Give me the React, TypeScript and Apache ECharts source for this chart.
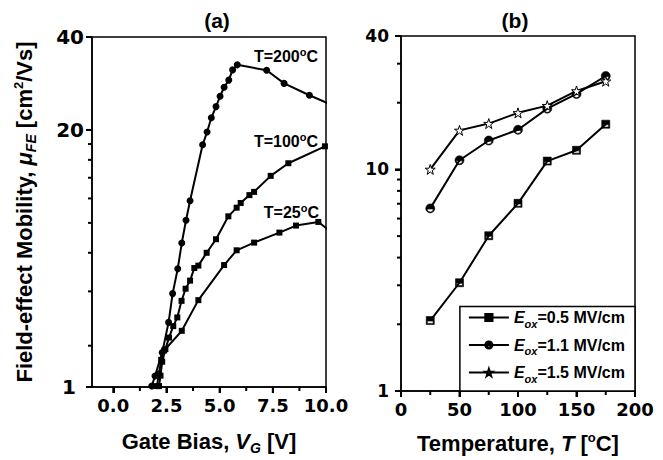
import React, { useEffect, useRef } from 'react';
import * as echarts from 'echarts';

// ---------- Panel (a): mobility vs gate bias ----------
const vgT200 = [1.81, 1.96, 2.3, 2.6, 2.79, 3.03, 3.22, 3.42, 3.61, 4.2, 4.41, 4.61, 4.83, 5.02, 5.21, 5.43, 5.61, 5.83, 7.21, 8.03, 9.22, 10.4];
const muT200 = [2.96, 3.19, 3.8, 4.76, 5.9, 7.1, 8.6, 10.2, 11.8, 17.9, 19.7, 21.9, 23.8, 25.7, 27.5, 29.0, 31.3, 32.5, 31.2, 28.3, 25.9, 23.9];

const vgT100 = [2.15, 2.22, 2.3, 2.45, 2.62, 2.82, 3.01, 3.21, 3.4, 3.61, 3.81, 4.0, 4.39, 4.83, 5.41, 5.8, 5.99, 6.4, 6.62, 7.4, 8.23, 9.95];
const muT100 = [2.96, 3.2, 3.55, 3.9, 4.25, 4.63, 4.94, 5.59, 6.12, 6.5, 7.14, 7.27, 8.0, 8.85, 10.5, 11.2, 11.6, 12.3, 12.6, 14.2, 15.6, 17.7];

const vgT25 = [2.05, 2.15, 2.25, 2.39, 3.22, 4.0, 5.21, 5.8, 6.62, 7.81, 8.59, 9.64, 10.3];
const muT25 = [2.96, 3.25, 3.6, 3.86, 4.47, 5.62, 7.3, 8.15, 8.63, 9.3, 9.8, 10.07, 9.28];

const seriesLabelsA = ['T=200', 'T=100', 'T=25'];

const aXMin = -1;
const aXMax = 10;
const aXMajor = [0, 2.5, 5, 7.5, 10];
const aXMinor = [1.25, 3.75, 6.25, 8.75];
const aYMin = 2.94;
const aYMax = 40;
const aYTickValues = [2.94, 20, 40];
const aYTickLabels = ['1', '20', '40'];
const aYMinor = [4, 6, 8, 10, 12, 14, 16, 18];

// ---------- Panel (b): mobility vs temperature ----------
const tempB = [25, 50, 75, 100, 125, 150, 175];
const muE05 = [2.08, 3.08, 5.02, 7.03, 10.9, 12.2, 16.0];
const muE11 = [6.67, 11.0, 13.5, 15.1, 18.8, 21.9, 26.4];
const muE15 = [10.0, 15.0, 16.1, 18.0, 19.4, 22.6, 25.0];
const eoxValues = ['0.5', '1.1', '1.5'];

const bXMin = 0;
const bXMax = 200;
const bXMajor = [0, 50, 100, 150, 200];
const bXMinor = [25, 75, 125, 175];
const bYMin = 1;
const bYMax = 40;
const bYTickValues = [1, 10, 40];
const bYTickLabels = ['1', '10', '40'];
const bYMinor = [2, 3, 4, 5, 6, 7, 8, 9, 20, 30];

const TXT = '"Liberation Sans", Arial, sans-serif';
const TICK = '"DejaVu Sans", sans-serif';
const BLACK = '#000';
const MAJOR_LEN = 6;
const MINOR_LEN = 4;
const TICK_W = 2;

const zip = (xs: number[], ys: number[]) => xs.map((x, i) => [x, ys[i]]);
const clampTicks = (vals: number[], lo: number, hi: number) =>
  vals.map((v) => Math.min(Math.max(v, lo * 1.0001), hi * 0.9999));
const nearestIndex = (v: number, vals: number[]) => {
  let best = 0;
  let d = Infinity;
  vals.forEach((t, i) => {
    const dd = Math.abs(Math.log(v) - Math.log(t));
    if (dd < d) {
      d = dd;
      best = i;
    }
  });
  return best;
};

const titleRich = () => ({
  n: { fontFamily: TXT, fontWeight: 'bold', fontSize: 22, color: BLACK },
  i: { fontFamily: TXT, fontWeight: 'bold', fontStyle: 'italic', fontSize: 22, color: BLACK },
  sub: { fontFamily: TXT, fontWeight: 'bold', fontStyle: 'italic', fontSize: 14, color: BLACK, padding: [14, 0, 0, 0] },
  sup: { fontFamily: TXT, fontWeight: 'bold', fontSize: 13, color: BLACK, padding: [0, 0, 12, 0] },
});

function mainX(gridIndex: number, min: number, max: number, major: number[], fmt: (v: number) => string, name: string) {
  return {
    type: 'value',
    gridIndex,
    min,
    max,
    position: 'bottom',
    axisLine: { show: true, onZero: false, lineStyle: { color: BLACK, width: 1.5 } },
    axisTick: { show: true, customValues: major, length: MAJOR_LEN, lineStyle: { color: BLACK, width: TICK_W } },
    axisLabel: {
      customValues: major,
      formatter: fmt,
      fontFamily: TICK,
      fontWeight: 'bold',
      fontSize: 18,
      color: BLACK,
      margin: 9,
    },
    splitLine: { show: false },
    name,
    nameLocation: 'middle',
    nameGap: 40,
    nameTextStyle: { rich: titleRich() },
  };
}

function mainY(gridIndex: number, min: number, max: number, vals: number[], labels: string[], fontSize: number, margin: number, padLast: number, name?: string) {
  const ticks = clampTicks(vals, min, max);
  return {
    type: 'log',
    logBase: 10,
    gridIndex,
    min,
    max,
    position: 'left',
    axisLine: { show: true, onZero: false, lineStyle: { color: BLACK, width: 1.5 } },
    axisTick: { show: true, customValues: ticks, length: MAJOR_LEN, lineStyle: { color: BLACK, width: TICK_W } },
    axisLabel: {
      customValues: ticks,
      formatter: (v: number) => {
        const i = nearestIndex(v, vals);
        return i === 0 ? `{lo|${labels[i]}}` : labels[i];
      },
      fontFamily: TICK,
      fontWeight: 'bold',
      fontSize,
      color: BLACK,
      margin,
      rich: {
        lo: { fontFamily: TICK, fontWeight: 'bold', fontSize, color: BLACK, padding: [0, padLast, 0, 0] },
      },
    },
    splitLine: { show: false },
    name: name || '',
    nameLocation: 'middle',
    nameGap: 54,
    nameRotate: 90,
    nameTextStyle: { rich: titleRich() },
  };
}

// tick marks drawn through the axes' own scales (api.coord); named so a legend never filters them
function tickSeries(id: string, axisIndex: number, values: number[], dir: 'x' | 'y', fixed: number, len: number) {
  return {
    type: 'custom',
    name: id,
    id,
    xAxisIndex: axisIndex,
    yAxisIndex: axisIndex,
    clip: false,
    z: 10,
    data: values.map((v) => (dir === 'x' ? [v, fixed] : [fixed, v])),
    renderItem: (params: any, api: any) => {
      const p = api.coord([api.value(0), api.value(1)]);
      const shape =
        dir === 'x'
          ? { x1: p[0], y1: p[1], x2: p[0], y2: p[1] + len }
          : { x1: p[0] - len, y1: p[1], x2: p[0], y2: p[1] };
      return { type: 'line', shape, style: { stroke: '#000', lineWidth: TICK_W } };
    },
  };
}

// half-filled symbols (top half black, bottom half open)
const HALF_RECT = 'path://M0,0 H10 V10 H0 Z M1.4,5.7 V8.6 H8.6 V5.7 Z';
const HALF_CIRCLE = 'path://M0,5 A5,5 0 1,1 10,5 A5,5 0 1,1 0,5 Z M8.4,5.7 H1.6 A3.4,3.4 0 0,0 8.4,5.7 Z';
const STAR =
  'path://M5,0 L6.18,3.55 L9.9,3.55 L6.9,5.75 L8.05,9.3 L5,7.1 L1.95,9.3 L3.1,5.75 L0.1,3.55 L3.82,3.55 Z';

const eoxName = (v: string) => `Eox=${v} MV/cm`;

export default function App() {
  const ref = useRef<HTMLDivElement>(null);

  useEffect(() => {
    if (!ref.current) return;
    const chart = echarts.init(ref.current, undefined, { renderer: 'svg' });

    const aSeries = [
      { data: zip(vgT200, muT200), symbol: 'circle', symbolSize: 7 },
      { data: zip(vgT100, muT100), symbol: 'rect', symbolSize: 6 },
      { data: zip(vgT25, muT25), symbol: 'rect', symbolSize: 6 },
    ].map((s, i) => ({
      type: 'line',
      name: seriesLabelsA[i],
      xAxisIndex: 0,
      yAxisIndex: 0,
      data: s.data,
      symbol: s.symbol,
      symbolSize: s.symbolSize,
      showAllSymbol: true,
      clip: true,
      lineStyle: { color: BLACK, width: 2 },
      itemStyle: { color: BLACK },
    }));

    const bDefs = [
      { vals: muE05, symbol: HALF_RECT, size: 8, color: BLACK, border: 0.6 },
      { vals: muE11, symbol: HALF_CIRCLE, size: 9, color: BLACK, border: 0.6 },
      { vals: muE15, symbol: STAR, size: 10, color: '#fff', border: 1 },
    ];
    const bSeries = bDefs.map((d, i) => ({
      type: 'line',
      name: eoxName(eoxValues[i]),
      xAxisIndex: 1,
      yAxisIndex: 1,
      data: zip(tempB, d.vals),
      symbol: d.symbol,
      symbolSize: d.size,
      showAllSymbol: true,
      lineStyle: { color: BLACK, width: 2 },
      itemStyle: { color: d.color, borderColor: BLACK, borderWidth: d.border },
    }));

    const ticks = [
      tickSeries('tickAxMaj', 0, aXMajor, 'x', aYMin, MAJOR_LEN),
      tickSeries('tickAxMin', 0, aXMinor, 'x', aYMin, MINOR_LEN),
      tickSeries('tickAyMaj', 0, aYTickValues, 'y', aXMin, MAJOR_LEN),
      tickSeries('tickAyMin', 0, aYMinor, 'y', aXMin, MINOR_LEN),
      tickSeries('tickBxMaj', 1, bXMajor, 'x', bYMin, MAJOR_LEN),
      tickSeries('tickBxMin', 1, bXMinor, 'x', bYMin, MINOR_LEN),
      tickSeries('tickByMaj', 1, bYTickValues, 'y', bXMin, MAJOR_LEN),
      tickSeries('tickByMin', 1, bYMinor, 'y', bXMin, MINOR_LEN),
    ];

    const annot = (text: string, x: number, y: number) => ({
      type: 'text',
      x,
      y,
      style: {
        text,
        fontFamily: TXT,
        fontWeight: 'bold',
        fontSize: 16,
        fill: BLACK,
        align: 'right',
        verticalAlign: 'middle',
        rich: {
          sup: { fontFamily: TXT, fontWeight: 'bold', fontSize: 11, fill: BLACK, padding: [0, 0, 9, 0] },
        },
      },
    });
    const panelTitle = (text: string, x: number) => ({
      type: 'text',
      x,
      y: 20,
      style: {
        text,
        fontFamily: TXT,
        fontWeight: 'bold',
        fontSize: 21,
        fill: BLACK,
        align: 'center',
        verticalAlign: 'middle',
      },
    });

    const option = {
      animation: false,
      grid: [
        { left: 92, top: 37, width: 234, height: 354, show: true, borderColor: BLACK, borderWidth: 1.5 },
        { left: 401, top: 36, width: 234, height: 355, show: true, borderColor: BLACK, borderWidth: 1.5 },
      ],
      xAxis: [
        mainX(0, aXMin, aXMax, aXMajor, (v: number) => v.toFixed(1), '{n|Gate Bias, }{i|V}{sub|G}{n| [V]}'),
        mainX(1, bXMin, bXMax, bXMajor, (v: number) => String(v), '{n|Temperature, }{i|T}{n| [}{sup|o}{n|C]}'),
      ],
      yAxis: [
        mainY(0, aYMin, aYMax, aYTickValues, aYTickLabels, 20, 8, 8, '{n|Field-effect Mobility, }{i|μ}{sub|FE}{n| [cm}{sup|2}{n|/Vs]}'),
        mainY(1, bYMin, bYMax, bYTickValues, bYTickLabels, 17, 12, 0),
      ],
      legend: {
        data: eoxValues.map(eoxName),
        orient: 'vertical',
        right: 28,
        bottom: 69,
        backgroundColor: '#fff',
        borderColor: BLACK,
        borderWidth: 1.5,
        borderRadius: 0,
        padding: [3, 10, 7, 8],
        itemGap: 8,
        itemWidth: 40,
        itemHeight: 9,
        formatter: (name: string) => {
          const v = name.replace('Eox=', '');
          return `{e|E}{s|ox}{n|=${v}}`;
        },
        textStyle: {
          rich: {
            e: { fontFamily: TXT, fontWeight: 'bold', fontStyle: 'italic', fontSize: 16, color: BLACK },
            s: { fontFamily: TXT, fontWeight: 'bold', fontStyle: 'italic', fontSize: 11, color: BLACK, padding: [12, 0, 0, 0] },
            n: { fontFamily: TXT, fontWeight: 'bold', fontSize: 16, color: BLACK },
          },
        },
      },
      graphic: [
        panelTitle('(a)', 217),
        panelTitle('(b)', 515),
        annot('T=200{sup|o}C', 318, 56),
        annot('T=100{sup|o}C', 318, 141),
        annot('T=25{sup|o}C', 319, 212),
      ],
      series: [...aSeries, ...bSeries, ...ticks],
    };

    chart.setOption(option as any);
    return () => chart.dispose();
  }, []);

  return (
    <div
      ref={ref}
      style={{ position: 'fixed', left: 0, top: 0, width: 663, height: 460, background: '#fff' }}
    />
  );
}
